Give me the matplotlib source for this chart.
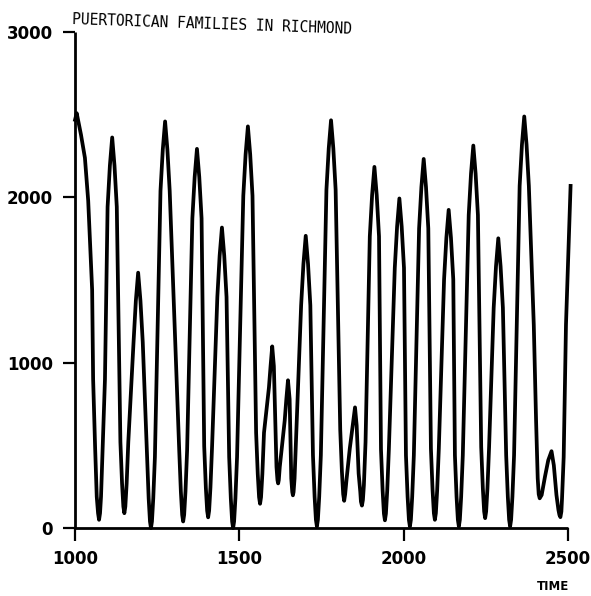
import numpy as np
import matplotlib
matplotlib.use("Agg")
import matplotlib.pyplot as plt

# values (time, number of families)
time = [1000, 1005, 1018, 1030, 1040, 1052,
        1055, 1061, 1066, 1070, 1073, 1076, 1079, 1084, 1091,
        1099, 1106, 1113, 1120, 1127,
        1138, 1143, 1147, 1150, 1153, 1157, 1162,
        1178, 1185, 1192, 1199, 1206,
        1219, 1224, 1228, 1231, 1234, 1238, 1243,
        1260, 1267, 1274, 1281, 1288,
        1317, 1322, 1326, 1329, 1332, 1336, 1341,
        1357, 1364, 1371, 1378, 1385,
        1393, 1398, 1402, 1405, 1408, 1412, 1417,
        1433, 1440, 1447, 1454, 1461,
        1469, 1474, 1478, 1481, 1484, 1488, 1493,
        1512, 1519, 1526, 1533, 1540,
        1551, 1556, 1560, 1563, 1566, 1570, 1575,
        1590, 1595, 1600, 1605,
        1613, 1616, 1618, 1620, 1623,
        1638, 1643, 1648, 1653,
        1658, 1661, 1663, 1665, 1668,
        1688, 1695, 1702, 1709, 1716,
        1724, 1729, 1733, 1736, 1739, 1743, 1748,
        1765, 1772, 1779, 1786, 1793,
        1807, 1812, 1816, 1819, 1822, 1826,
        1836, 1847, 1852, 1857, 1863,
        1868, 1870, 1873, 1876, 1879, 1884,
        1897, 1904, 1911, 1918, 1925,
        1931, 1936, 1940, 1943, 1946, 1950, 1955,
        1973, 1980, 1987, 1994, 2001,
        2007, 2012, 2016, 2019, 2022, 2026, 2031,
        2047, 2054, 2061, 2068, 2075,
        2083, 2088, 2092, 2095, 2098, 2102, 2107,
        2123, 2130, 2137, 2144, 2151,
        2156, 2161, 2165, 2168, 2171, 2175, 2180,
        2198, 2205, 2212, 2219, 2226,
        2236, 2241, 2245, 2248, 2251, 2255, 2260,
        2274, 2281, 2288, 2295, 2302,
        2312, 2317, 2321, 2324, 2327, 2331, 2336,
        2353, 2360, 2367, 2374, 2381,
        2396, 2403, 2408, 2411, 2414, 2420,
        2430, 2440, 2450, 2457, 2465,
        2471, 2474, 2477, 2480, 2482, 2487,
        2494, 2508]

families = [2470, 2510, 2380, 2240, 1980, 1440,
            900, 490, 190, 90, 50, 90, 190, 490, 900,
            1943, 2193, 2363, 2193, 1943,
            520, 270, 130, 90, 130, 270, 520,
            1125, 1375, 1545, 1375, 1125,
            430, 180, 40, 0, 40, 180, 430,
            2040, 2290, 2460, 2290, 2040,
            470, 220, 80, 40, 80, 220, 470,
            1874, 2124, 2294, 2124, 1874,
            495, 245, 105, 65, 105, 245, 495,
            1398, 1648, 1818, 1648, 1398,
            430, 180, 40, 0, 40, 180, 430,
            2010, 2260, 2430, 2260, 2010,
            577, 327, 187, 147, 187, 327, 577,
            850, 980, 1099, 980,
            370, 290, 270, 290, 370,
            650, 780, 894, 780,
            300, 218, 198, 218, 300,
            1348, 1598, 1768, 1598, 1348,
            440, 190, 50, 10, 50, 190, 440,
            2047, 2297, 2467, 2297, 2047,
            595, 345, 205, 165, 205, 290,
            480, 650, 730, 620, 330,
            220, 160, 136, 170, 260, 520,
            1765, 2015, 2185, 2015, 1765,
            477, 227, 87, 47, 87, 227, 477,
            1574, 1824, 1994, 1824, 1574,
            440, 190, 50, 10, 50, 190, 440,
            1813, 2063, 2233, 2063, 1813,
            480, 230, 90, 50, 90, 230, 480,
            1505, 1755, 1925, 1755, 1505,
            440, 190, 50, 10, 50, 190, 440,
            1894, 2144, 2314, 2144, 1894,
            490, 240, 100, 60, 100, 240, 490,
            1333, 1583, 1753, 1583, 1333,
            440, 190, 50, 10, 50, 190, 440,
            2070, 2320, 2490, 2320, 2070,
            1230, 650, 300, 205, 180, 200,
            310, 410, 465, 380, 200,
            110, 80, 66, 100, 180, 430,
            1230, 2070]

x_ticks = [1000, 1500, 2000, 2500]
y_ticks = [0, 1000, 2000, 3000]


def main():
    fig = plt.figure(figsize=(5.91, 5.96), dpi=100)
    ax = fig.add_axes([0.127, 0.114, 0.834, 0.832])

    ax.plot(time, families, color="black", lw=2.7, solid_joinstyle="round",
            clip_on=False, zorder=3)

    ax.set_xlim(1000, 2500)
    ax.set_ylim(0, 3000)
    ax.set_xticks(x_ticks)
    ax.set_yticks(y_ticks)

    for side in ["top", "right"]:
        ax.spines[side].set_visible(False)
    for side in ["left", "bottom"]:
        ax.spines[side].set_linewidth(2.0)
        ax.spines[side].set_capstyle("butt")
    ax.tick_params(direction="out", length=9, width=1.6, pad=7,
                   labelsize=12)
    for lab in ax.get_xticklabels() + ax.get_yticklabels():
        lab.set_fontweight("bold")

    fig.text(72 / 591, 1 - 20 / 596, "PUERTORICAN FAMILIES IN RICHMOND",
             family="DejaVu Sans Mono", fontsize=10.5, ha="left", va="center",
             rotation=-2, rotation_mode="anchor")
    fig.text(553 / 591, 1 - 587 / 596, "TIME", fontsize=8.5, fontweight="bold",
             ha="center", va="center")

    fig.savefig("out.png", dpi=100)


if __name__ == '__main__':
    main()
